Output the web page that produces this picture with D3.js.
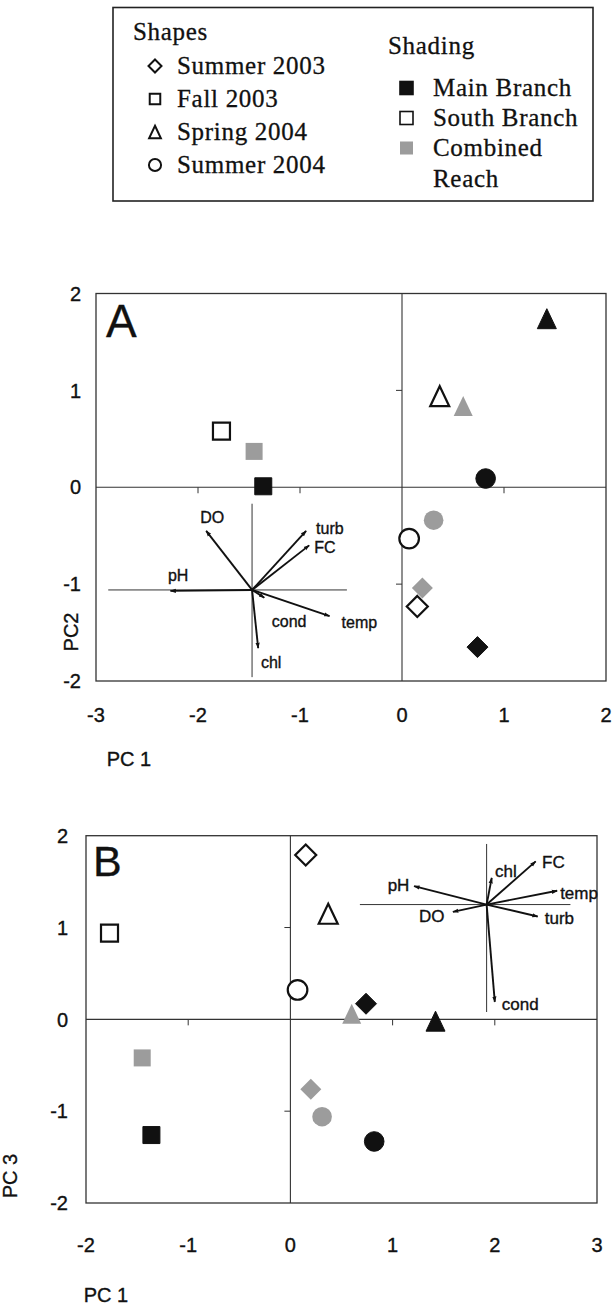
<!DOCTYPE html>
<html>
<head>
<meta charset="utf-8">
<script src="https://cdn.jsdelivr.net/npm/d3@7"></script>
<style>
  html, body { margin: 0; padding: 0; background: #fff; }
  svg { display: block; }
</style>
</head>
<body>
<svg id="chart" width="613" height="1308"></svg>
<script>
// ---- data ---------------------------------------------------------------
const seasons = ["Summer 2003", "Fall 2003", "Spring 2004", "Summer 2004"];
const seasonShapes = ["diamond", "square", "triangle", "circle"];
const reaches = ["Main Branch", "South Branch", "Combined Reach"];
const reachFills = ["#111111", "#ffffff", "#9c9c9c"];

// one entry per reach x season sample
const sampleReach  = [0, 0, 0, 0, 1, 1, 1, 1, 2, 2, 2, 2];
const sampleSeason = [0, 1, 2, 3, 0, 1, 2, 3, 0, 1, 2, 3];
const pc1 = [0.74, -1.36, 1.42, 0.82,  0.15, -1.77, 0.37, 0.07,  0.20, -1.45, 0.60, 0.31];
const pc2 = [-1.65, 0.01, 1.74, 0.09, -1.23, 0.58, 0.94, -0.53, -1.04, 0.37, 0.84, -0.34];
const pc3 = [0.17, -1.26, -0.02, -1.33, 1.79, 0.94, 1.15, 0.32, -0.76, -0.42, 0.06, -1.06];

// environmental variable loadings shown as biplot arrows
const variables = ["DO", "turb", "FC", "pH", "temp", "cond", "chl"];
const loadA1 = [-0.45, 0.53, 0.56, -0.80, 0.76, 0.12, 0.06];
const loadA2 = [0.61, 0.61, 0.46, -0.01, -0.27, -0.08, -0.60];
const loadB1 = [-0.33, 0.50, 0.48, -0.71, 0.69, 0.08, 0.05];
const loadB3 = [-0.08, -0.13, 0.47, 0.20, 0.15, -1.06, 0.29];

const xTicksA = [-3, -2, -1, 0, 1, 2];
const yTicksA = [-2, -1, 0, 1, 2];
const xTicksB = [-2, -1, 0, 1, 2, 3];
const yTicksB = [-2, -1, 0, 1, 2];

// ---- layout -------------------------------------------------------------
const SANS = "'Liberation Sans', Arial, sans-serif";
const SERIF = "'Liberation Serif', 'Times New Roman', serif";
const INK = "#111";
const svg = d3.select("#chart");

const panels = [
  {
    letter: "A", xTicks: xTicksA, yTicks: yTicksA, ys: pc2, yName: "PC2",
    left: 96, right: 606, top: 293.5, bottom: 681,
    yLabelX: 81, xLabelY: 722, xTitle: {x: 129, y: 766}, yTitle: {x: 78, y: 632},
    letterPos: {x: 106, y: 337, size: 46},
    bi: {
      l1: loadA1, l2: loadA2, origin: [-1.47, -1.06],
      hLine: [-2.88, -0.54], vLine: [-0.17, -1.96], fontSize: 16,
      labels: {
        DO:   {dx: -6, dy: -13.5, anchor: "start"},
        turb: {dx: 10, dy: -3, anchor: "start"},
        FC:   {dx: 5, dy: 1.5, anchor: "start"},
        pH:   {dx: -2.5, dy: -15.5, anchor: "start"},
        temp: {dx: 12, dy: 6, anchor: "start"},
        cond: {dx: 7.5, dy: 24, anchor: "start"},
        chl:  {dx: 2.7, dy: 13.7, anchor: "start"}
      }
    }
  },
  {
    letter: "B", xTicks: xTicksB, yTicks: yTicksB, ys: pc3, yName: "PC 3",
    left: 86, right: 597, top: 835.7, bottom: 1203,
    yLabelX: 68, xLabelY: 1252, xTitle: {x: 106, y: 1302}, yTitle: {x: 17, y: 1176},
    letterPos: {x: 93, y: 876, size: 43},
    bi: {
      l1: loadB1, l2: loadB3, origin: [1.92, 1.25],
      hLine: [0.68, 2.74], vLine: [1.91, 0.08], fontSize: 17,
      labels: {
        DO:   {dx: -8.4, dy: 3.7, anchor: "end"},
        turb: {dx: 7, dy: 1.3, anchor: "start"},
        FC:   {dx: 6.4, dy: 0, anchor: "start"},
        pH:   {dx: -4.7, dy: -1, anchor: "end"},
        temp: {dx: 3, dy: 1.7, anchor: "start"},
        cond: {dx: 7, dy: 1.7, anchor: "start"},
        chl:  {dx: 3.3, dy: -7.3, anchor: "start"}
      }
    }
  }
];

// arrowhead for the loading vectors
svg.append("defs").append("marker")
  .attr("id", "arrowhead")
  .attr("viewBox", "0 0 10 10")
  .attr("refX", 9).attr("refY", 5)
  .attr("markerWidth", 6).attr("markerHeight", 6)
  .attr("markerUnits", "userSpaceOnUse")
  .attr("orient", "auto")
  .append("path").attr("d", "M0,1.5 L10,5 L0,8.5 Z").attr("fill", INK);

// marker outlines, centred on (0,0)
function shapePath(kind) {
  if (kind === "square")   { const h = 8.5; return `M${-h},${-h}H${h}V${h}H${-h}Z`; }
  if (kind === "diamond")  { const h = 10.5; return `M0,${-h}L${h},0L0,${h}L${-h},0Z`; }
  if (kind === "triangle") { const w = 9.5, h = 10; return `M0,${-h}L${w},${h}L${-w},${h}Z`; }
  const r = 9.8;
  return `M${r},0A${r},${r} 0 1,1 ${-r},0A${r},${r} 0 1,1 ${r},0Z`;
}

// sans-serif label with a hair of outline so it reads like printed type
function sansText(sel, size) {
  return sel.attr("font-family", SANS).attr("font-size", size)
    .attr("fill", INK).attr("stroke", INK).attr("stroke-width", 0.35);
}

panels.forEach(p => {
  const x = d3.scaleLinear().domain(d3.extent(p.xTicks)).range([p.left, p.right]);
  const y = d3.scaleLinear().domain(d3.extent(p.yTicks)).range([p.bottom, p.top]);
  const g = svg.append("g");

  // frame
  g.append("rect")
    .attr("x", p.left).attr("y", p.top)
    .attr("width", p.right - p.left).attr("height", p.bottom - p.top)
    .attr("fill", "none").attr("stroke", "#333").attr("stroke-width", 1.3);

  // zero lines with small ticks
  g.append("line").attr("x1", p.left).attr("x2", p.right)
    .attr("y1", y(0)).attr("y2", y(0)).attr("stroke", "#333").attr("stroke-width", 1.1);
  g.append("line").attr("x1", x(0)).attr("x2", x(0))
    .attr("y1", p.top).attr("y2", p.bottom).attr("stroke", "#333").attr("stroke-width", 1.1);
  const innerX = p.xTicks.filter(t => t !== 0 && t !== p.xTicks[0] && t !== p.xTicks[p.xTicks.length - 1]);
  const innerY = p.yTicks.filter(t => t !== 0 && t !== p.yTicks[0] && t !== p.yTicks[p.yTicks.length - 1]);
  g.selectAll(".xt").data(innerX).join("line")
    .attr("x1", d => x(d)).attr("x2", d => x(d))
    .attr("y1", y(0)).attr("y2", y(0) + 6).attr("stroke", "#333");
  g.selectAll(".yt").data(innerY).join("line")
    .attr("x1", x(0) - 6).attr("x2", x(0))
    .attr("y1", d => y(d)).attr("y2", d => y(d)).attr("stroke", "#333");

  // tick labels
  sansText(g.selectAll(".xl").data(p.xTicks).join("text"), 20)
    .attr("x", d => x(d)).attr("y", p.xLabelY)
    .attr("text-anchor", "middle")
    .text(d => d);
  sansText(g.selectAll(".yl").data(p.yTicks).join("text"), 20)
    .attr("x", p.yLabelX).attr("y", d => y(d)).attr("dy", "0.36em")
    .attr("text-anchor", "end")
    .text(d => d);

  // axis titles
  sansText(g.append("text"), 20).attr("x", p.xTitle.x).attr("y", p.xTitle.y)
    .attr("text-anchor", "middle").text("PC 1");
  sansText(g.append("text"), 20)
    .attr("transform", `translate(${p.yTitle.x},${p.yTitle.y}) rotate(-90)`)
    .attr("text-anchor", "middle").text(p.yName);

  // panel letter
  sansText(g.append("text"), p.letterPos.size)
    .attr("x", p.letterPos.x).attr("y", p.letterPos.y).text(p.letter);

  // biplot inset: its own cross-hair and loading arrows
  const b = p.bi;
  const ox = x(b.origin[0]), oy = y(b.origin[1]);
  g.append("line").attr("x1", x(b.hLine[0])).attr("x2", x(b.hLine[1]))
    .attr("y1", oy).attr("y2", oy).attr("stroke", "#333").attr("stroke-width", 1);
  g.append("line").attr("x1", ox).attr("x2", ox)
    .attr("y1", y(b.vLine[0])).attr("y2", y(b.vLine[1])).attr("stroke", "#333").attr("stroke-width", 1);
  const vecs = variables.map((v, i) => ({
    name: v,
    tx: x(b.origin[0] + b.l1[i]),
    ty: y(b.origin[1] + b.l2[i])
  }));
  g.selectAll(".vec").data(vecs).join("line")
    .attr("x1", ox).attr("y1", oy)
    .attr("x2", d => d.tx).attr("y2", d => d.ty)
    .attr("stroke", INK).attr("stroke-width", 1.9)
    .attr("marker-end", "url(#arrowhead)");
  sansText(g.selectAll(".vl").data(vecs).join("text"), b.fontSize)
    .attr("x", d => d.tx + b.labels[d.name].dx)
    .attr("y", d => d.ty + b.labels[d.name].dy)
    .attr("dy", "0.36em")
    .attr("text-anchor", d => b.labels[d.name].anchor)
    .text(d => d.name);

  // sample points
  const pts = pc1.map((v, i) => ({
    x: x(v), y: y(p.ys[i]),
    shape: seasonShapes[sampleSeason[i]],
    reach: sampleReach[i]
  }));
  g.selectAll(".pt").data(pts).join("path")
    .attr("transform", d => `translate(${d.x},${d.y})`)
    .attr("d", d => shapePath(d.shape))
    .attr("fill", d => reachFills[d.reach])
    .attr("stroke", d => d.reach === 2 ? "none" : INK)
    .attr("stroke-width", d => d.reach === 1 ? 2.2 : 1);
});

// ---- legend -------------------------------------------------------------
const lg = svg.append("g");
lg.append("rect").attr("x", 113).attr("y", 7.5).attr("width", 480).attr("height", 193.5)
  .attr("fill", "none").attr("stroke", "#222").attr("stroke-width", 1.6);

const legText = (x, y, t) => lg.append("text").attr("x", x).attr("y", y)
  .attr("font-family", SERIF).attr("font-size", 25).attr("letter-spacing", 0.7)
  .attr("fill", INK).attr("stroke", INK).attr("stroke-width", 0.3).text(t);

legText(133, 40, "Shapes");
seasons.forEach((s, i) => {
  const cy = 66 + i * 33;
  lg.append("path")
    .attr("transform", `translate(155,${cy}) scale(0.62)`)
    .attr("d", shapePath(seasonShapes[i]))
    .attr("fill", "#fff").attr("stroke", INK).attr("stroke-width", 3.2);
  legText(177, cy + 8, s);
});

legText(388, 54, "Shading");
const shadeRows = [["Main Branch"], ["South Branch"], ["Combined", "Reach"]];
reaches.forEach((r, i) => {
  const cy = 88 + i * 30;
  lg.append("rect").attr("x", 400).attr("y", cy - 6.5).attr("width", 13).attr("height", 13)
    .attr("fill", reachFills[i])
    .attr("stroke", i === 2 ? "none" : INK).attr("stroke-width", 1.6);
  shadeRows[i].forEach((line, k) => legText(433, cy + 8 + k * 31, line));
});
</script>
</body>
</html>
